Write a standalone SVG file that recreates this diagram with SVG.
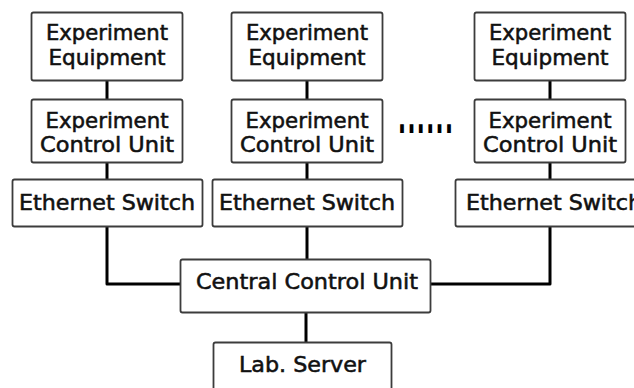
<svg xmlns="http://www.w3.org/2000/svg" width="634" height="388" viewBox="0 0 634 388">
  <style>
    .box { fill: #ffffff; stroke: #3c3c3c; stroke-width: 1.8; }
    .lbl { font-family: "DejaVu Sans", "Liberation Sans", sans-serif; font-size: 21px; fill: #111111; stroke: #111111; stroke-width: 0.55; text-anchor: middle; }
    .wire { fill: none; stroke: #000000; stroke-width: 3; stroke-linejoin: round; }
  </style>
  <rect width="634" height="388" fill="#ffffff"/>

  <g id="connectors">
    <line class="wire" x1="107" y1="80" x2="107" y2="99"/>
    <line class="wire" x1="107" y1="162" x2="107" y2="179"/>
    <line class="wire" x1="307" y1="80" x2="307" y2="99"/>
    <line class="wire" x1="307" y1="162" x2="307" y2="179"/>
    <line class="wire" x1="550" y1="80" x2="550" y2="99"/>
    <line class="wire" x1="550" y1="162" x2="550" y2="179"/>
    <polyline class="wire" points="107,227 107,284 181,284"/>
    <line class="wire" x1="307" y1="227" x2="307" y2="259"/>
    <polyline class="wire" points="430,284 550,284 550,227"/>
    <line class="wire" x1="306" y1="313" x2="306" y2="342"/>
  </g>

  <!-- column 1 -->
  <g id="equip1">
    <rect class="box" x="31.5" y="12.5" width="151" height="68" rx="2"/>
    <text class="lbl" x="107" y="40" textLength="122" lengthAdjust="spacingAndGlyphs">Experiment</text>
    <text class="lbl" x="107" y="65" textLength="117" lengthAdjust="spacingAndGlyphs">Equipment</text>
  </g>
  <g id="ecu1">
    <rect class="box" x="31.5" y="99.5" width="151" height="63" rx="2"/>
    <text class="lbl" x="107" y="128" textLength="123" lengthAdjust="spacingAndGlyphs">Experiment</text>
    <text class="lbl" x="107" y="152" textLength="134" lengthAdjust="spacingAndGlyphs">Control Unit</text>
  </g>
  <g id="switch1">
    <rect class="box" x="12.5" y="179.5" width="190" height="47" rx="2"/>
    <text class="lbl" x="107" y="210" textLength="176" lengthAdjust="spacingAndGlyphs">Ethernet Switch</text>
  </g>

  <!-- column 2 -->
  <g id="equip2">
    <rect class="box" x="231.5" y="12.5" width="151" height="68" rx="2"/>
    <text class="lbl" x="307" y="40" textLength="122" lengthAdjust="spacingAndGlyphs">Experiment</text>
    <text class="lbl" x="307" y="65" textLength="117" lengthAdjust="spacingAndGlyphs">Equipment</text>
  </g>
  <g id="ecu2">
    <rect class="box" x="231.5" y="99.5" width="151" height="63" rx="2"/>
    <text class="lbl" x="307" y="128" textLength="123" lengthAdjust="spacingAndGlyphs">Experiment</text>
    <text class="lbl" x="307" y="152" textLength="134" lengthAdjust="spacingAndGlyphs">Control Unit</text>
  </g>
  <g id="switch2">
    <rect class="box" x="212.5" y="179.5" width="190" height="47" rx="2"/>
    <text class="lbl" x="307" y="210" textLength="176" lengthAdjust="spacingAndGlyphs">Ethernet Switch</text>
  </g>

  <!-- column 3 -->
  <g id="equip3">
    <rect class="box" x="474.5" y="12.5" width="151" height="68" rx="2"/>
    <text class="lbl" x="550" y="40" textLength="122" lengthAdjust="spacingAndGlyphs">Experiment</text>
    <text class="lbl" x="550" y="65" textLength="117" lengthAdjust="spacingAndGlyphs">Equipment</text>
  </g>
  <g id="ecu3">
    <rect class="box" x="474.5" y="99.5" width="151" height="63" rx="2"/>
    <text class="lbl" x="550" y="128" textLength="123" lengthAdjust="spacingAndGlyphs">Experiment</text>
    <text class="lbl" x="550" y="152" textLength="134" lengthAdjust="spacingAndGlyphs">Control Unit</text>
  </g>
  <g id="switch3">
    <rect class="box" x="455.5" y="179.5" width="190" height="47" rx="2"/>
    <text class="lbl" x="554" y="210" textLength="176" lengthAdjust="spacingAndGlyphs">Ethernet Switch</text>
  </g>

  <!-- ellipsis between columns -->
  <g id="ellipsis">
    <text x="0" y="0" transform="translate(398,133) scale(1,2.2)" font-family="DejaVu Sans, sans-serif" font-size="21" font-weight="bold" fill="#000000" textLength="55" lengthAdjust="spacing">......</text>
  </g>

  <g id="central">
    <rect class="box" x="180.5" y="259.5" width="250" height="53" rx="2"/>
    <text class="lbl" x="307" y="289" textLength="222" lengthAdjust="spacingAndGlyphs">Central Control Unit</text>
  </g>

  <g id="server">
    <rect class="box" x="213.5" y="342.5" width="178" height="60" rx="2"/>
    <text class="lbl" x="302.5" y="372" textLength="127" lengthAdjust="spacingAndGlyphs">Lab. Server</text>
  </g>
</svg>
